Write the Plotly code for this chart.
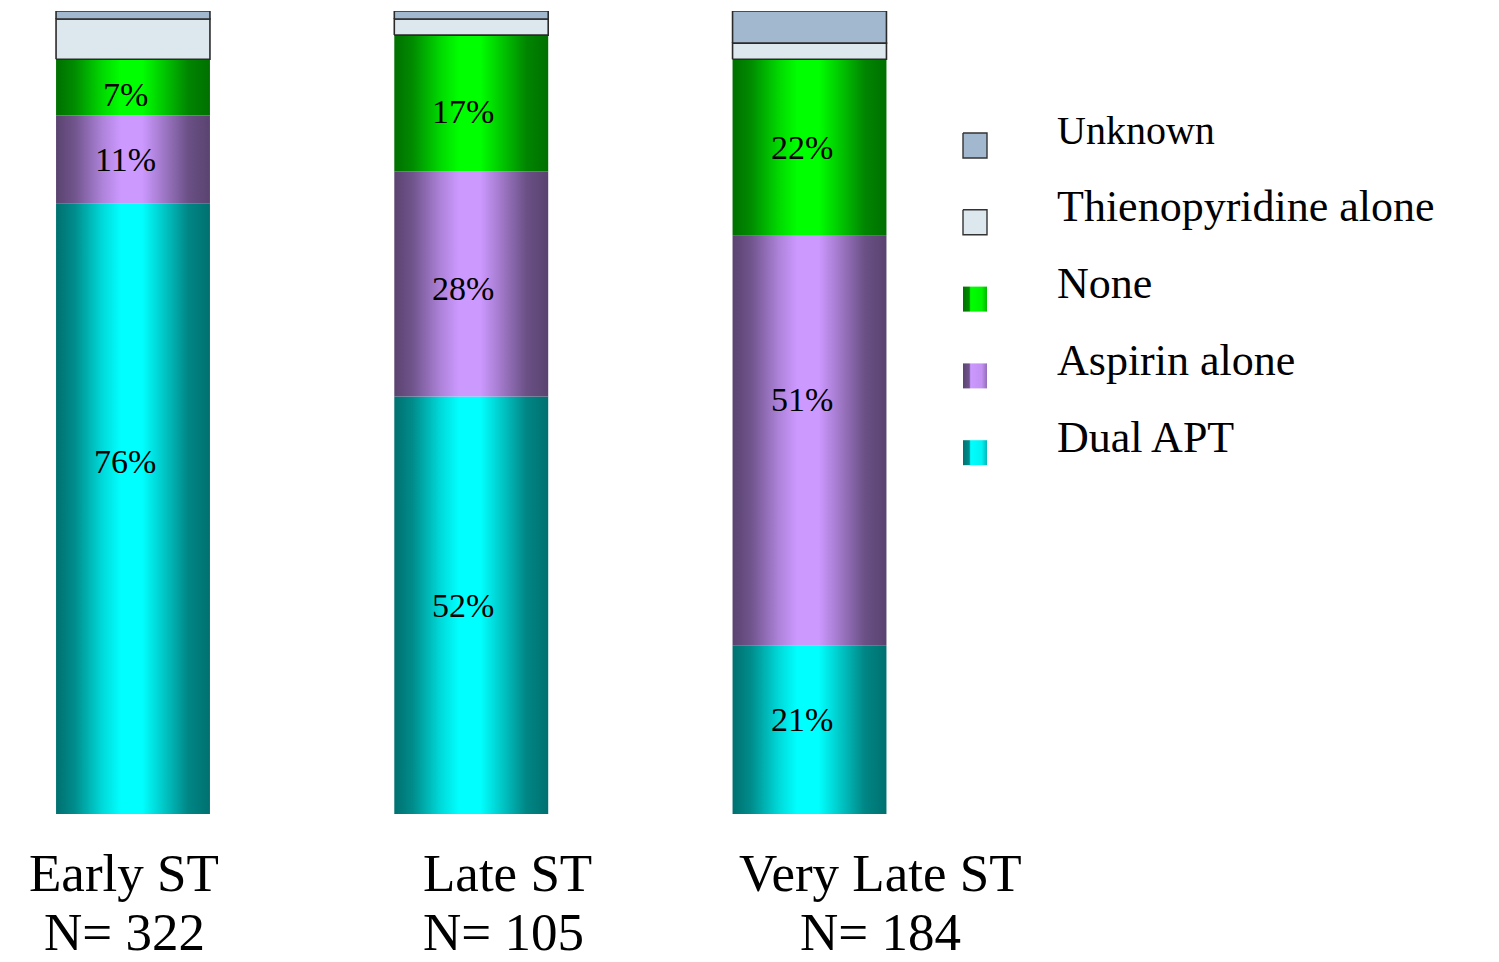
import plotly.graph_objects as go

# ---- data -------------------------------------------------------------
CATEGORIES = ["Early ST", "Late ST", "Very Late ST"]
N_COUNTS = [322, 105, 184]

DUAL_APT = [76, 52, 21]
ASPIRIN_ALONE = [11, 28, 51]
NO_APT = [7, 17, 22]
THIENO_ALONE = [5, 2, 2]
UNKNOWN = [1, 1, 4]

SERIES_NAMES = ["Dual APT", "Aspirin alone", "None", "Thienopyridine alone", "Unknown"]
SERIES_VALUES = [DUAL_APT, ASPIRIN_ALONE, NO_APT, THIENO_ALONE, UNKNOWN]
LABELLED = [True, True, True, False, False]

# ---- style ------------------------------------------------------------
BASE_COLORS = ["#00FFFF", "#CC99FF", "#00FF00", "#DDE7EE", "#A2B8CF"]
SHADED = [True, True, True, False, False]
LEGEND_FONT_SIZE = [44, 44, 44, 44, 40]
OUTLINE = "#2a2a2a"
BAR_WIDTH = 0.455
SERIF = "Liberation Serif, Times New Roman, serif"

# cylinder-like shading across a bar (position, brightness factor)
CYLINDER = [(0.0, 0.44), (0.12, 0.55), (0.3, 0.85), (0.42, 1.0), (0.56, 1.0),
            (0.7, 0.78), (0.86, 0.52), (1.0, 0.44)]
SWATCH = [(0.0, 0.45), (0.26, 0.55), (0.32, 1.0), (0.78, 0.95), (1.0, 0.72)]


def shade_scale(hex_color, profile):
    r, g, b = (int(hex_color[i:i + 2], 16) for i in (1, 3, 5))
    return [[p, f"rgb({round(r * f)},{round(g * f)},{round(b * f)})"] for p, f in profile]


fig = go.Figure()

# ---- stacked cylinder bars --------------------------------------------
annotations = []
bases = [0.0] * len(CATEGORIES)
# extra vertical placement (px) for some in-bar labels, keyed (category, series)
LABEL_NUDGE = {(0, 0): 47, (2, 1): 41, (0, 2): -7, (1, 2): -8, (2, 0): 10, (1, 1): -4}

for s, (name, vals) in enumerate(zip(SERIES_NAMES, SERIES_VALUES)):
    for i, v in enumerate(vals):
        x0, x1 = i - BAR_WIDTH / 2, i + BAR_WIDTH / 2
        y0, y1 = bases[i], bases[i] + v
        kw = dict(
            x=[x0, x1, x1, x0, x0], y=[y0, y0, y1, y1, y0],
            mode="lines", fill="toself", name=name, showlegend=False,
            hoverinfo="skip",
        )
        if SHADED[s]:
            kw["line"] = dict(width=0, color=BASE_COLORS[s])
            kw["fillgradient"] = dict(type="horizontal",
                                      colorscale=shade_scale(BASE_COLORS[s], CYLINDER))
        else:
            kw["line"] = dict(width=1.6, color=OUTLINE)
            kw["fillcolor"] = BASE_COLORS[s]
        fig.add_trace(go.Scatter(**kw))
        if LABELLED[s]:
            annotations.append(dict(
                x=i, y=(y0 + y1) / 2, xref="x", yref="y", text=f"{v}%",
                showarrow=False, xshift=-8, yshift=LABEL_NUDGE.get((i, s), 0),
                font=dict(family=SERIF, size=34, color="black"),
            ))
        bases[i] = y1

# ---- category labels (two lines, placed separately for tight spacing) ---
CAT_ALIGN = [("center", -9), ("left", -49), ("center", 71)]
LINE_SHIFTS = [-89, -148]
for i, (cat, n) in enumerate(zip(CATEGORIES, N_COUNTS)):
    align, shift = CAT_ALIGN[i]
    for text, ysh in zip([cat, f"N= {n}"], LINE_SHIFTS):
        annotations.append(dict(
            x=i, y=0, xref="x", yref="paper", text=text,
            showarrow=False, xanchor=align, yanchor="bottom", align=align,
            xshift=shift, yshift=ysh, borderpad=0,
            font=dict(family=SERIF, size=53, color="black"),
        ))

# ---- legend (drawn on a pixel-scaled overlay axis) ---------------------
LEG_TEXT_X = 1055
LEG_SW_X0, LEG_SW_X1 = 963, 987
LEG_TOP, LEG_PITCH = 119, 76.8
for row, s in enumerate(reversed(range(len(SERIES_NAMES)))):
    yc = LEG_TOP + row * LEG_PITCH
    sy0, sy1 = yc + 3, yc + 28
    kw = dict(
        x=[LEG_SW_X0, LEG_SW_X1, LEG_SW_X1, LEG_SW_X0, LEG_SW_X0],
        y=[sy0, sy0, sy1, sy1, sy0], xaxis="x2", yaxis="y2",
        mode="lines", fill="toself", showlegend=False, hoverinfo="skip",
    )
    if SHADED[s]:
        kw["line"] = dict(width=0, color=BASE_COLORS[s])
        kw["fillgradient"] = dict(type="horizontal",
                                  colorscale=shade_scale(BASE_COLORS[s], SWATCH))
    else:
        kw["line"] = dict(width=1.4, color="#333333")
        kw["fillcolor"] = BASE_COLORS[s]
    fig.add_trace(go.Scatter(**kw))
    annotations.append(dict(
        x=LEG_TEXT_X, y=yc, xref="x2", yref="y2", text=SERIES_NAMES[s],
        showarrow=False, xanchor="left", yanchor="middle",
        font=dict(family=SERIF, size=LEGEND_FONT_SIZE[s], color="black"),
    ))

PLOT_W, PLOT_H = 1499, 803
fig.update_layout(
    width=1499, height=962,
    margin=dict(l=0, r=0, t=11, b=148),
    paper_bgcolor="white", plot_bgcolor="white",
    showlegend=False, hovermode=False,
    xaxis=dict(range=[-0.3932, 4.0384], visible=False, fixedrange=True),
    yaxis=dict(range=[0, 100], visible=False, fixedrange=True),
    xaxis2=dict(range=[0, PLOT_W], visible=False, overlaying="x", fixedrange=True),
    yaxis2=dict(range=[PLOT_H, 0], visible=False, overlaying="y", fixedrange=True),
    annotations=annotations,
)

fig.write_html("out.html", config={"displayModeBar": False})
